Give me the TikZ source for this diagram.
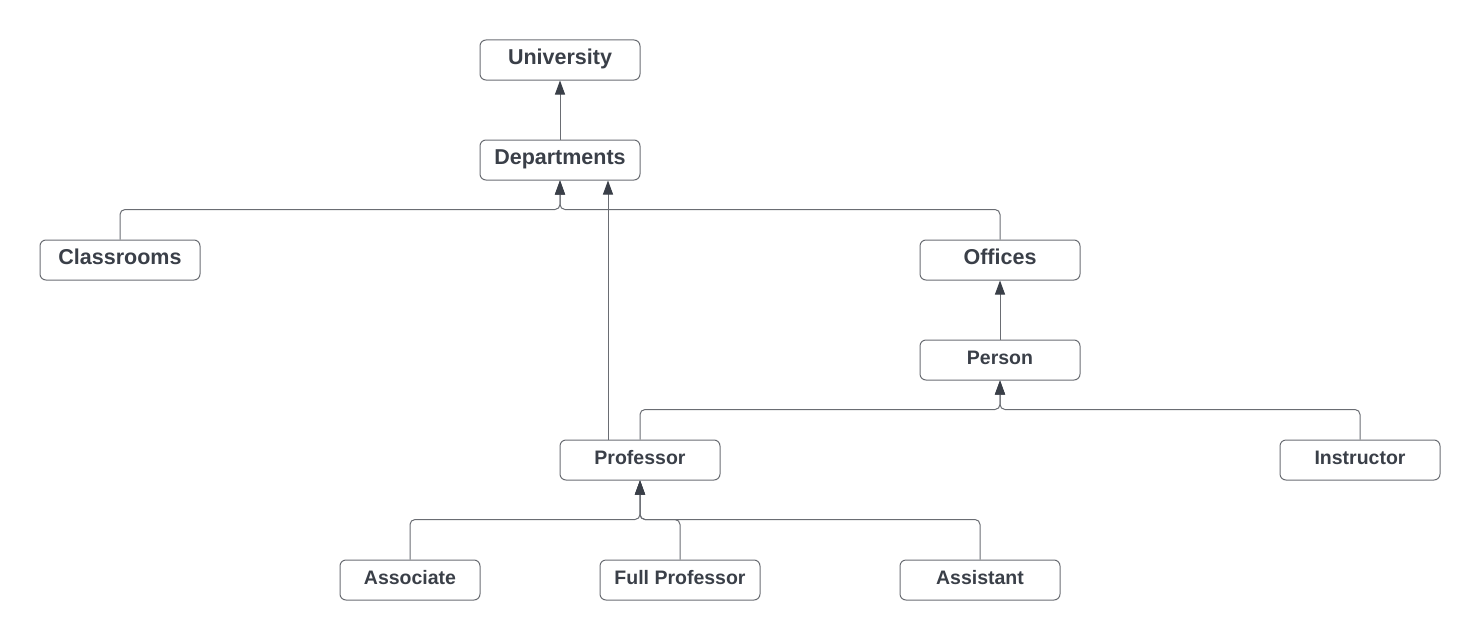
\documentclass[tikz,border=0pt]{standalone}
\usepackage{fontspec}
\setmainfont{Liberation Sans}
\usepackage{xcolor}
\usetikzlibrary{positioning,calc,arrows.meta}

\definecolor{ink}{HTML}{3A3F48}
\definecolor{edge}{HTML}{6A6D73}

\tikzset{
    box/.style={draw=edge, line width=1pt, rounded corners=6pt, minimum width=160pt,
        minimum height=40pt, inner sep=0pt, text=ink, text height=16pt, text depth=6.4pt,
        font=\fontsize{21.5}{24}\selectfont\bfseries},
    small/.style={font=\fontsize{19.5}{22}\selectfont\bfseries, text height=14pt, text depth=6pt},
    link/.style={draw=edge, line width=1pt, rounded corners=5pt,
        -{Triangle[length=14pt,width=10pt,fill=ink,color=ink]}}
}

\begin{document}
\begin{tikzpicture}[x=1pt, y=-1pt]
    \useasboundingbox (0,0) rectangle (1480,642);

    % Top levels
    \node[box] (U) at (560,60) {University};
    \node[box] (D) at (560,160) {Departments};
    \node[box] (C) at (120,260) {Classrooms};
    \node[box] (O) at (1000,260) {Offices};
    \node[box, small] (Pe) at (1000,360) {Person};

    % Staff
    \node[box, small] (P) at (640,460) {Professor};
    \node[box, small] (I) at (1360,460) {Instructor};

    % Ranks
    \node[box, small, minimum width=140pt] (As) at (410,580) {Associate};
    \node[box, small] (F) at (680,580) {Full Professor};
    \node[box, small] (At) at (980,580) {Assistant};

    % Links
    \draw[link] (D.north) -- (U.south);
    \draw[link] (C.north) -- ++(0,-30) -| (D.south);
    \draw[link] (O.north) -- ++(0,-30) -| (D.south);
    \draw[link] ([xshift=-32pt]P.north) -- ([xshift=48pt]D.south);
    \draw[link] (Pe.north) -- (O.south);
    \draw[link] (P.north) -- ++(0,-30) -| (Pe.south);
    \draw[link] (I.north) -- ++(0,-30) -| (Pe.south);
    \draw[link] (As.north) -- ++(0,-40) -| (P.south);
    \draw[link] (F.north) -- ++(0,-40) -| (P.south);
    \draw[link] (At.north) -- ++(0,-40) -| (P.south);

\end{tikzpicture}
\end{document}
